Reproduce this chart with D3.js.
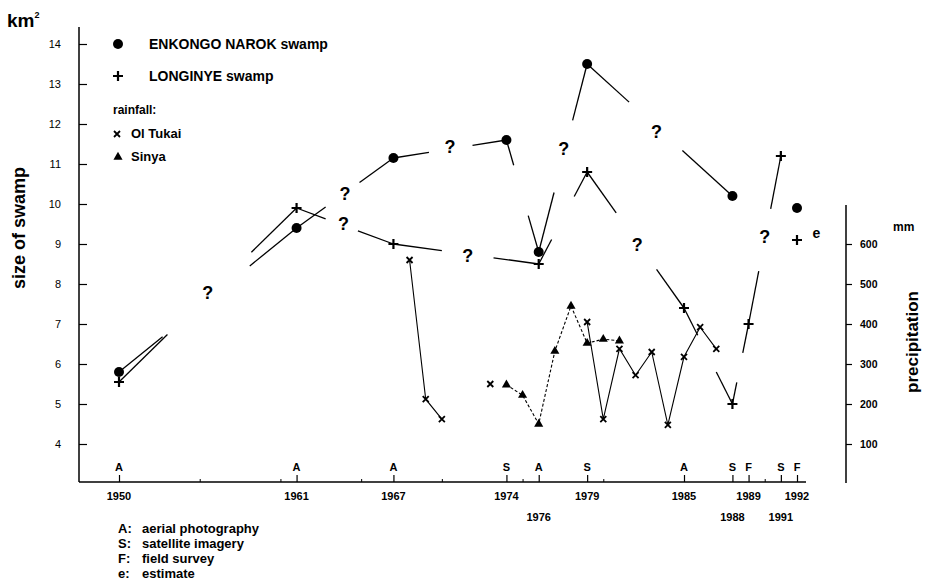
<!DOCTYPE html>
<html>
<head>
<meta charset="utf-8">
<script src="https://cdn.jsdelivr.net/npm/d3@7"></script>
<style>
  body { margin: 0; background: #fff; }
  svg { display: block; font-family: "Liberation Sans", Arial, sans-serif; }
</style>
</head>
<body>
<svg id="chart" width="925" height="585"></svg>
<script>
// swamp size, km2
const enkongoYears = [1950, 1961, 1967, 1974, 1976, 1979, 1988, 1992];
const enkongoSize = [5.8, 9.4, 11.15, 11.6, 8.8, 13.5, 10.2, 9.9];
// unknown stretch of each segment (years), false = not joined
const enkongoGaps = [[1952.7, 1958.1], [1962.8, 1964.9], [1969.2, 1971.9], [1974.45, 1975.35], [1976.95, 1978.1], [1981.6, 1984.9], false];

const longinyeYears = [1950, 1961, 1967, 1976, 1979, 1985, 1988, 1989, 1991, 1992];
const longinyeSize = [5.55, 9.9, 9.0, 8.5, 10.8, 7.4, 5.0, 7.0, 11.2, 9.1];
const longinyeGaps = [[1953.0, 1958.2], [1962.8, 1964.8], [1970.0, 1973.2], [1976.8, 1978.2], [1980.8, 1983.3], [1985.85, 1987.0], [1988.27, 1988.64], [1989.63, 1990.37], false];

// "?" marks
const unknownYears = [1955.5, 1964.0, 1963.9, 1970.5, 1971.6, 1977.55, 1983.3, 1982.1, 1990.0];
const unknownSize = [7.78, 10.25, 9.5, 11.43, 8.7, 11.38, 11.8, 8.98, 9.18];
const estimateYear = 1993.2, estimateSize = 9.28;

// rainfall, mm
const olTukaiYears = [1968, 1969, 1970, 1971, 1972, 1973, 1974, 1975, 1976, 1977, 1978, 1979, 1980, 1981, 1982, 1983, 1984, 1985, 1986, 1987];
const olTukaiMm = [560, 212, 162, null, null, 250, null, null, null, null, null, 405, 162, 338, 272, 330, 148, 318, 392, 338];
const sinyaYears = [1974, 1975, 1976, 1977, 1978, 1979, 1980, 1981];
const sinyaMm = [248, 222, 150, 332, 445, 352, 362, 358];

// survey dates
const surveyYears = [1950, 1961, 1967, 1974, 1976, 1979, 1985, 1988, 1989, 1991, 1992];
const surveyType = ["A", "A", "A", "S", "A", "S", "A", "S", "F", "S", "F"];
const lowerRowYears = [1976, 1988, 1991];
const minorYears = [1955, 1960, 1965, 1970, 1975, 1980, 1990];

const sizeTicks = [4, 5, 6, 7, 8, 9, 10, 11, 12, 13, 14];
const rainTicks = [100, 200, 300, 400, 500, 600];
const codeKeys = ["A:", "S:", "F:", "e:"];
const codeLabels = ["aerial photography", "satellite imagery", "field survey", "estimate"];

const svg = d3.select("#chart");
svg.append("rect").attr("width", 925).attr("height", 585).attr("fill", "#fff");

const x = d3.scaleLinear().domain([1950, 1992]).range([119, 797]);
const ySize = d3.scaleLinear().domain([4, 14]).range([444, 44]);
const yRain = d3.scaleLinear().domain([100, 600]).range([444, 244]);

const leftX = 79, baseY = 482, rightX = 846;

// left axis
svg.append("line").attr("x1", leftX).attr("x2", leftX).attr("y1", 27).attr("y2", baseY)
    .attr("stroke", "#000").attr("stroke-width", 1.5);
const gLeft = svg.append("g").attr("transform", `translate(${leftX},0)`)
    .call(d3.axisRight(ySize).tickValues(sizeTicks).tickSize(8).tickFormat(d3.format("d")))
    .attr("font-family", null).attr("font-size", null);
gLeft.select(".domain").remove();
gLeft.selectAll("line").attr("stroke-width", 1.2);
gLeft.selectAll("text").attr("x", -18).attr("text-anchor", "end").style("font-size", "11px");

// bottom axis
svg.append("line").attr("x1", leftX).attr("x2", 806).attr("y1", baseY).attr("y2", baseY)
    .attr("stroke", "#000").attr("stroke-width", 1.5);
const gMinor = svg.append("g").attr("transform", `translate(0,${baseY})`)
    .call(d3.axisTop(x).tickValues(minorYears).tickSize(3).tickFormat(""));
gMinor.select(".domain").remove();
const gBottom = svg.append("g").attr("transform", `translate(0,${baseY})`)
    .call(d3.axisTop(x).tickValues(surveyYears).tickSize(7).tickFormat(""));
gBottom.select(".domain").remove();
gBottom.selectAll("line").attr("stroke-width", 1.2);

svg.selectAll(".survey").data(surveyYears).join("text")
    .attr("x", d => x(d)).attr("y", 471)
    .attr("text-anchor", "middle").style("font-size", "11px").style("font-weight", "bold")
    .text((d, i) => surveyType[i]);
svg.selectAll(".year").data(surveyYears).join("text")
    .attr("x", d => x(d)).attr("y", d => lowerRowYears.includes(d) ? 521 : 500)
    .attr("text-anchor", "middle").style("font-size", "11px").style("font-weight", "bold")
    .text(d => d);

// right axis
svg.append("line").attr("x1", rightX).attr("x2", rightX).attr("y1", 205).attr("y2", 483)
    .attr("stroke", "#000").attr("stroke-width", 1.5);
const gRight = svg.append("g").attr("transform", `translate(${rightX},0)`)
    .call(d3.axisRight(yRain).tickValues(rainTicks).tickSize(6).tickPadding(8))
    .attr("font-family", null).attr("font-size", null);
gRight.select(".domain").remove();
gRight.selectAll("line").attr("stroke-width", 1.2);
gRight.selectAll("text").style("font-size", "10.5px").style("font-weight", "bold");

// axis titles
const km = svg.append("text").attr("x", 7).attr("y", 27).style("font-size", "19px").style("font-weight", "bold");
km.append("tspan").text("km");
km.append("tspan").attr("dy", -9).style("font-size", "9px").text("2");
svg.append("text").attr("transform", "translate(25,228) rotate(-90)").attr("text-anchor", "middle")
    .style("font-size", "18px").style("font-weight", "bold").text("size of swamp");
svg.append("text").attr("transform", "translate(918,342) rotate(-90)").attr("text-anchor", "middle")
    .style("font-size", "17px").style("font-weight", "bold").text("precipitation");
svg.append("text").attr("x", 893).attr("y", 231).style("font-size", "12px").style("font-weight", "bold").text("mm");

// swamp lines, broken where the size is unknown
function swampPieces(years, vals, gaps) {
    const pieces = [];
    for (let i = 0; i < years.length - 1; i++) {
        const g = gaps[i];
        if (g === false) continue;
        const at = t => [t, vals[i] + (vals[i + 1] - vals[i]) * (t - years[i]) / (years[i + 1] - years[i])];
        const a = [years[i], vals[i]], b = [years[i + 1], vals[i + 1]];
        if (g) {
            pieces.push([a, at(g[0])]);
            pieces.push([at(g[1]), b]);
        } else {
            pieces.push([a, b]);
        }
    }
    return pieces;
}
const swampLine = d3.line().x(d => x(d[0])).y(d => ySize(d[1]));
[[enkongoYears, enkongoSize, enkongoGaps], [longinyeYears, longinyeSize, longinyeGaps]].forEach(s => {
    svg.append("g").selectAll("path").data(swampPieces(...s)).join("path")
        .attr("d", swampLine).attr("fill", "none").attr("stroke", "#000").attr("stroke-width", 1.3);
});

// rainfall lines
const rainLine = d3.line().defined(d => d[1] != null).x(d => x(d[0])).y(d => yRain(d[1]));
svg.append("path").datum(olTukaiYears.map((d, i) => [d, olTukaiMm[i]]))
    .attr("d", rainLine).attr("fill", "none").attr("stroke", "#000").attr("stroke-width", 1.1);
svg.append("path").datum(sinyaYears.map((d, i) => [d, sinyaMm[i]]))
    .attr("d", rainLine).attr("fill", "none").attr("stroke", "#000").attr("stroke-width", 1.1)
    .attr("stroke-dasharray", "3,2");

// markers
const plus = "M-5,0H5M0,-5V5";
const cross = "M-3,-3L3,3M-3,3L3,-3";
const tri = d3.symbol().type(d3.symbolTriangle).size(36)();

svg.selectAll(".olpt").data(olTukaiYears.filter((d, i) => olTukaiMm[i] != null)).join("path")
    .attr("transform", d => `translate(${x(d)},${yRain(olTukaiMm[olTukaiYears.indexOf(d)])})`)
    .attr("d", cross).attr("stroke", "#000").attr("stroke-width", 1.8);
svg.selectAll(".sipt").data(sinyaYears).join("path")
    .attr("transform", (d, i) => `translate(${x(d)},${yRain(sinyaMm[i])})`)
    .attr("d", tri).attr("fill", "#000");
svg.selectAll(".enpt").data(enkongoYears).join("circle")
    .attr("cx", d => x(d)).attr("cy", (d, i) => ySize(enkongoSize[i])).attr("r", 5).attr("fill", "#000");
svg.selectAll(".lopt").data(longinyeYears).join("path")
    .attr("transform", (d, i) => `translate(${x(d)},${ySize(longinyeSize[i])})`)
    .attr("d", plus).attr("stroke", "#000").attr("stroke-width", 2.2);

// question marks and estimate
svg.selectAll(".unk").data(unknownYears).join("text")
    .attr("x", d => x(d)).attr("y", (d, i) => ySize(unknownSize[i])).attr("dy", "0.36em")
    .attr("text-anchor", "middle").style("font-size", "18px").style("font-weight", "bold").text("?");
svg.append("text").attr("x", x(estimateYear)).attr("y", ySize(estimateSize)).attr("dy", "0.35em")
    .attr("text-anchor", "middle").style("font-size", "14px").style("font-weight", "bold").text("e");

// top legend
const leg = svg.append("g");
leg.append("circle").attr("cx", 118).attr("cy", 44).attr("r", 5).attr("fill", "#000");
leg.append("text").attr("x", 149).attr("y", 49).style("font-size", "14px").style("font-weight", "bold").text("ENKONGO NAROK swamp");
leg.append("path").attr("transform", "translate(118,76)").attr("d", plus).attr("stroke", "#000").attr("stroke-width", 2.2);
leg.append("text").attr("x", 149).attr("y", 81).style("font-size", "14px").style("font-weight", "bold").text("LONGINYE swamp");
leg.append("text").attr("x", 113).attr("y", 114).style("font-size", "12px").style("font-weight", "bold").text("rainfall:");
leg.append("path").attr("transform", "translate(117,134)").attr("d", cross).attr("stroke", "#000").attr("stroke-width", 1.8);
leg.append("text").attr("x", 131).attr("y", 138).style("font-size", "13px").style("font-weight", "bold").text("Ol Tukai");
leg.append("path").attr("transform", "translate(118,157)").attr("d", tri).attr("fill", "#000");
leg.append("text").attr("x", 131).attr("y", 161).style("font-size", "13px").style("font-weight", "bold").text("Sinya");

// code legend
const codes = svg.append("g");
codes.selectAll(".k").data(codeKeys).join("text")
    .attr("x", 118).attr("y", (d, i) => 533 + i * 15)
    .style("font-size", "13px").style("font-weight", "bold").text(d => d);
codes.selectAll(".l").data(codeLabels).join("text")
    .attr("x", 142).attr("y", (d, i) => 533 + i * 15)
    .style("font-size", "13px").style("font-weight", "bold").text(d => d);
</script>
</body>
</html>
